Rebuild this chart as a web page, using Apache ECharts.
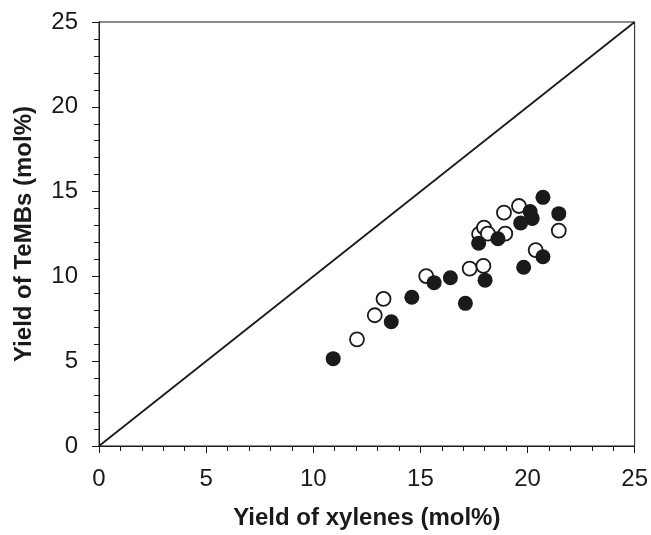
<!DOCTYPE html>
<html>
<head>
<meta charset="utf-8">
<script src="https://cdn.jsdelivr.net/npm/echarts@6/dist/echarts.min.js"></script>
<style>
  html, body { margin: 0; padding: 0; background: #fff; }
  #chart { width: 651px; height: 535px; }
</style>
</head>
<body>
<div id="chart"></div>
<script>
// Axis range and tick labels
const axisMin = 0;
const axisMax = 25;
const majorStep = 5;
const minorStep = 1;

// Open circles: [xylenes yield, TeMBs yield] (mol%)
const openPoints = [
  [12.04, 6.29], [12.87, 7.71], [13.28, 8.67], [15.27, 10.02],
  [17.30, 10.46], [17.94, 10.62], [17.74, 12.50], [17.97, 12.88],
  [18.15, 12.52], [18.96, 12.52], [18.90, 13.76], [19.60, 14.15],
  [20.38, 11.55], [21.46, 12.70]
];

// Filled circles: [xylenes yield, TeMBs yield] (mol%)
const filledPoints = [
  [10.93, 5.15], [13.64, 7.33], [14.60, 8.77], [15.64, 9.63],
  [16.40, 9.92], [17.10, 8.41], [18.02, 9.78], [17.72, 11.96],
  [18.62, 12.22], [19.68, 13.15], [20.12, 13.82], [20.22, 13.42],
  [20.72, 14.66], [21.46, 13.70], [19.82, 10.54], [20.72, 11.16]
];

// Parity line y = x
const parityLine = [[0, 0], [25, 25]];

const chart = echarts.init(document.getElementById('chart'), null, { renderer: 'canvas' });
const labelFont = '"Liberation Sans Narrow", "Liberation Sans", Arial, sans-serif';
const titleFont = '"Liberation Sans", Arial, sans-serif';
const ink = '#1a1a1a';

function axisPair(kind) {
  // minor ticks point inward, major ticks outward and carry the labels
  const base = {
    type: 'value', min: axisMin, max: axisMax,
    axisLine: { show: true, lineStyle: { color: ink, width: 1 } },
    splitLine: { show: false }
  };
  const minor = Object.assign({}, base, {
    interval: minorStep,
    axisTick: { show: true, inside: true, length: 5, lineStyle: { color: ink } },
    axisLabel: { show: false }
  });
  const major = Object.assign({}, base, {
    interval: majorStep,
    axisTick: { show: true, inside: false, length: 7, lineStyle: { color: ink } },
    axisLabel: {
      show: true, color: ink, fontFamily: labelFont, fontSize: 24,
      margin: kind === 'x' ? 21 : 21
    },
    name: kind === 'x' ? 'Yield of xylenes (mol%)' : 'Yield of TeMBs (mol%)',
    nameLocation: 'middle',
    nameGap: kind === 'x' ? 60 : 63,
    nameTextStyle: { color: ink, fontFamily: titleFont, fontSize: 24, fontWeight: 'bold' }
  });
  return [major, minor];
}

chart.setOption({
  animation: false,
  backgroundColor: '#fff',
  grid: {
    left: 99, right: 15, top: 22, bottom: 89,
    show: true, borderColor: ink, borderWidth: 1, backgroundColor: 'transparent'
  },
  xAxis: axisPair('x'),
  yAxis: axisPair('y'),
  series: [
    {
      type: 'line', data: parityLine, symbol: 'none',
      lineStyle: { color: ink, width: 1.8 }, z: 1
    },
    {
      type: 'scatter', data: openPoints, symbol: 'circle', symbolSize: 14,
      itemStyle: { color: '#fff', borderColor: ink, borderWidth: 1.8, opacity: 1 }, z: 2
    },
    {
      type: 'scatter', data: filledPoints, symbol: 'circle', symbolSize: 15,
      itemStyle: { color: ink, borderColor: ink, borderWidth: 0, opacity: 1 }, z: 3
    }
  ]
});
</script>
</body>
</html>
